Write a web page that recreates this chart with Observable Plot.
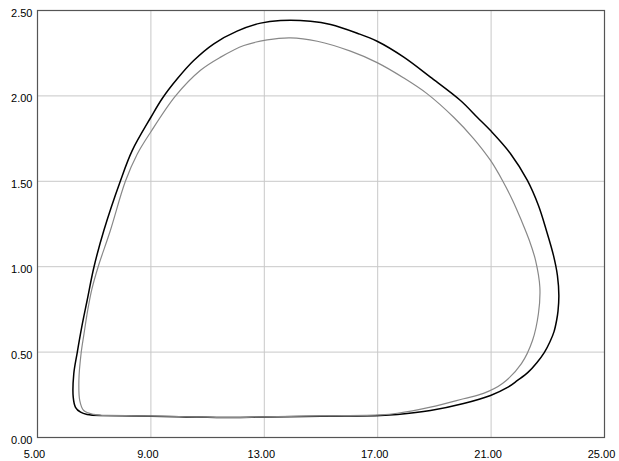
<!DOCTYPE html>
<html>
<head>
<meta charset="utf-8">
<script src="https://cdn.jsdelivr.net/npm/d3@7"></script>
<script src="https://cdn.jsdelivr.net/npm/@observablehq/plot@0.6"></script>
<style>
  html, body { margin: 0; padding: 0; background: #fff; }
  #chart svg { display: block; }
</style>
</head>
<body>
<div id="chart"></div>
<script>
const xTicks = [5, 9, 13, 17, 21, 25];
const yTicks = [0, 0.5, 1, 1.5, 2, 2.5];

// Outer (black) loop: x, y pairs
const outerX = [7.22,6.75,6.52,6.34,6.26,6.28,6.40,6.56,6.75,6.99,7.34,7.93,8.34,9.0,9.40,9.93,10.51,11.22,12.04,12.87,13.57,14.63,15.34,16.28,16.98,17.92,18.86,19.92,20.51,20.98,21.68,22.28,22.67,22.95,23.20,23.34,23.39,23.36,23.31,23.22,23.08,22.88,22.62,22.30,21.93,21.58,20.98,20.03,18.86,17.70,17.10,15.0,13.0,11.8,10.0,8.5,7.22];
const outerY = [0.129,0.135,0.148,0.177,0.236,0.373,0.496,0.646,0.802,0.997,1.212,1.505,1.68,1.875,1.985,2.10,2.207,2.305,2.379,2.426,2.441,2.437,2.418,2.367,2.32,2.227,2.11,1.973,1.875,1.797,1.663,1.505,1.358,1.212,1.066,0.948,0.831,0.74,0.685,0.62,0.562,0.498,0.439,0.381,0.334,0.293,0.246,0.199,0.158,0.135,0.129,0.125,0.12,0.117,0.122,0.126,0.129];

// Inner (gray) loop
const innerX = [7.46,6.99,6.63,6.49,6.46,6.54,6.64,6.77,6.92,7.14,7.57,8.10,8.52,9.0,9.87,10.75,11.46,12.28,13.10,13.92,14.87,16.04,16.98,17.92,18.75,19.68,20.39,20.98,21.40,21.76,22.07,22.35,22.57,22.72,22.67,22.46,22.07,21.40,20.73,20.03,18.86,17.69,17.10,15.0,13.0,11.8,10.0,8.5,7.46];
const innerY = [0.129,0.135,0.158,0.217,0.334,0.496,0.607,0.744,0.87,1.0,1.212,1.50,1.66,1.79,2.0,2.15,2.227,2.295,2.328,2.34,2.32,2.262,2.195,2.105,2.012,1.875,1.749,1.622,1.505,1.388,1.270,1.153,1.036,0.878,0.726,0.568,0.433,0.316,0.258,0.227,0.178,0.142,0.133,0.127,0.121,0.118,0.123,0.127,0.129];

const outer = outerX.map((x, i) => ({x, y: outerY[i]}));
const inner = innerX.map((x, i) => ({x, y: innerY[i]}));

const fmt = d3.format(".2f");

const chart = Plot.plot({
  width: 619,
  height: 461,
  marginLeft: 37,
  marginRight: 15,
  marginTop: 10,
  marginBottom: 24,
  style: { fontFamily: "Liberation Sans, Arial, sans-serif", fontSize: "11px", color: "#000", background: "#fff" },
  x: { domain: [5, 25], label: null },
  y: { domain: [0, 2.5], label: null },
  marks: [
    Plot.gridX(xTicks, { stroke: "#c8c8c8", strokeOpacity: 1 }),
    Plot.gridY(yTicks, { stroke: "#c8c8c8", strokeOpacity: 1 }),
    Plot.axisX(xTicks, { tickSize: 0, tickPadding: 13, tickFormat: fmt, dx: -3, fill: "#000", label: null }),
    Plot.axisY(yTicks, { tickSize: 0, tickPadding: 5, tickFormat: fmt, dy: 3, fill: "#000", label: null }),
    Plot.line(outer, { x: "x", y: "y", stroke: "#000", strokeWidth: 1.5, curve: "catmull-rom" }),
    Plot.line(inner, { x: "x", y: "y", stroke: "#888", strokeWidth: 1.2, curve: "catmull-rom" }),
    Plot.frame({ stroke: "#555", strokeWidth: 1.2 })
  ]
});
document.getElementById("chart").appendChild(chart);
</script>
</body>
</html>
